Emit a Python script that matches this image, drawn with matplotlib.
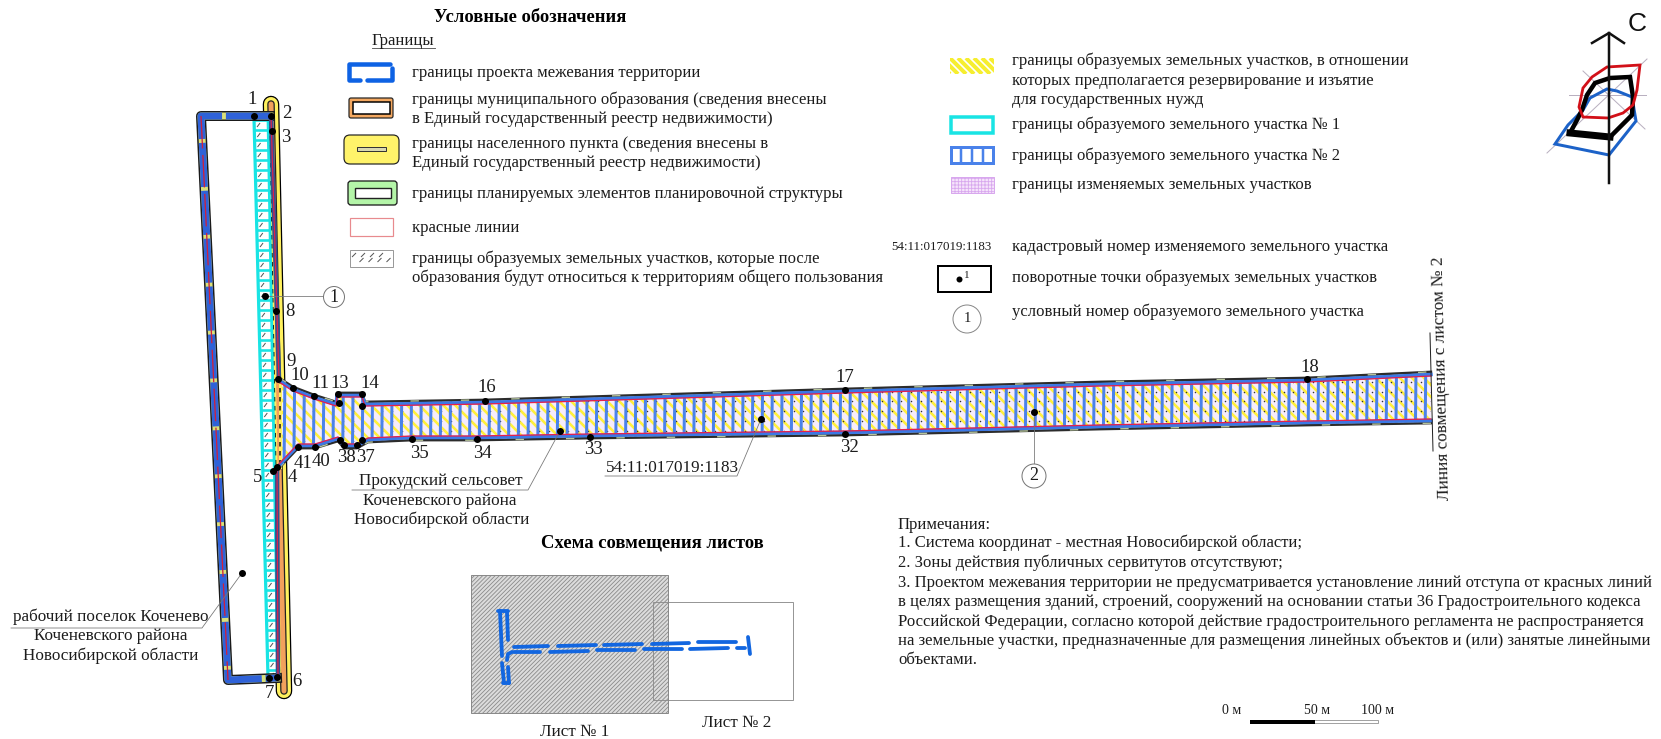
import numpy as np
import matplotlib
matplotlib.use("Agg")
import matplotlib.pyplot as plt
from matplotlib.collections import LineCollection
from matplotlib.patches import Circle, FancyBboxPatch, Polygon, Rectangle

# ---- data (pixels of the sheet) ----
top_edge = [(279, 379), (293, 388), (314, 396), (336, 403), (337, 394), (362, 394), (365, 403),
            (485, 401), (845, 390), (1100, 383), (1307, 379), (1431, 373)]
bottom_edge = [(1431, 422), (1307, 424), (1100, 428), (845, 434), (590, 437), (477, 439), (412, 439),
               (368, 441), (357, 447), (344, 447), (338, 440), (315, 447), (298, 447), (279, 467)]
outer_left = [(270, 116), (201, 116), (228, 680), (277, 678)]
settlement_strip = [(271, 104), (284, 691)]
plot1_left = [(254, 118), (268, 678)]
plot1_right = [(268, 118), (278, 678)]
right_border_a = [(271, 116), (279, 379)]
right_border_b = [(277, 467), (278, 678)]

point_x = [254, 271, 272, 265, 276, 278, 293, 314, 338, 339, 362, 362, 485, 560, 412, 477, 362, 357, 340,
           344, 315, 298, 277, 273, 845, 845, 590, 1307, 761, 1034, 269, 277, 242]
point_y = [116, 116, 131, 296, 311, 379, 388, 396, 394, 403, 394, 406, 401, 431, 439, 439, 440, 445, 440,
           445, 447, 447, 467, 471, 390, 434, 437, 379, 419, 412, 678, 677, 573]

point_labels = ["1", "2", "3", "8", "9", "10", "11", "13", "14", "16", "17", "18", "32", "33", "34", "35",
                "37", "38", "40", "41", "4", "5", "6", "7"]
label_x = [252, 287, 286, 290, 291, 300, 320, 340, 370, 487, 845, 1310, 849, 593, 482, 419,
           365, 346, 321, 303, 292, 258, 297, 269]
label_y = [100, 114, 137, 312, 361, 375, 383, 383, 383, 387, 377, 368, 448, 450, 453, 453,
           457, 457, 462, 464, 478, 478, 682, 693]

legend_left = ["границы проекта межевания территории",
               "границы муниципального образования (сведения внесены",
               "в Единый государственный реестр недвижимости)",
               "границы населенного пункта (сведения внесены в",
               "Единый государственный реестр недвижимости)",
               "границы планируемых элементов планировочной структуры",
               "красные линии",
               "границы образуемых земельных участков, которые после",
               "образования будут относиться к территориям общего пользования"]
legend_left_y = [73, 100, 119, 144, 163, 194, 228, 259, 278]

legend_right = ["границы образуемых земельных участков, в отношении",
                "которых предполагается резервирование и изъятие",
                "для государственных нужд",
                "границы образуемого земельного участка № 1",
                "границы образуемого земельного участка № 2",
                "границы изменяемых земельных участков",
                "кадастровый номер изменяемого земельного участка",
                "поворотные точки образуемых земельных участков",
                "условный номер образуемого земельного участка"]
legend_right_y = [61, 81, 100, 125, 156, 185, 247, 278, 312]

notes = ["Примечания:",
         "1. Система координат - местная Новосибирской области;",
         "2. Зоны действия публичных сервитутов отсутствуют;",
         "3. Проектом межевания территории не предусматривается установление линий отступа от красных линий",
         "в целях размещения зданий, строений, сооружений на основании статьи 36 Градостроительного кодекса",
         "Российской Федерации, согласно которой действие градостроительного регламента не распространяется",
         "на земельные участки, предназначенные для размещения линейных объектов и (или) занятые линейными",
         "объектами."]
notes_y = [525, 543, 563, 583, 602, 622, 641, 660]

rose_red = [(1640, 65), (1607, 67), (1592, 77), (1583, 88), (1579, 107), (1583, 117), (1608, 118),
            (1623, 113), (1633, 105), (1637, 90)]
rose_black = [(1570, 133), (1610, 137), (1632, 115), (1633, 97), (1630, 77), (1610, 78), (1595, 83),
              (1587, 95), (1582, 110), (1577, 120)]
rose_blue = [(1555, 144), (1609, 155), (1636, 121), (1632, 97), (1617, 91), (1607, 89), (1590, 98),
             (1583, 110), (1568, 125)]
rose_axes = [[(1569, 95), (1646, 95)], [(1547, 153), (1647, 59)], [(1583, 71), (1645, 129)]]

mini_dashes = [[(500, 611), (502, 656)], [(498, 611), (508, 611)], [(507, 612), (508, 640)],
               [(502, 663), (504, 683)], [(503, 683), (509, 683)], [(508, 667), (509, 683)],
               [(507, 660), (508, 654), (512, 652)],
               [(514, 647), (548, 646)], [(558, 646), (596, 645)], [(604, 645), (642, 644)],
               [(652, 644), (689, 643)], [(698, 642), (736, 642)],
               [(514, 652), (540, 652)], [(550, 652), (588, 651)], [(597, 650), (635, 650)],
               [(644, 649), (682, 649)], [(690, 649), (728, 648)], [(737, 648), (745, 648)],
               [(748, 637), (750, 654)]]

FONT = "Liberation Serif"
BLUE = "#4a82ea"
LINE_BLUE = "#0e62e4"
TEXT_SIZE = 12.0
PLACE_SIZE = 12.3


def px(v):
    return v * 0.72


plt.rcParams["hatch.linewidth"] = 0.6
fig = plt.figure(figsize=(16.61, 7.39), dpi=100)
ax = fig.add_axes([0, 0, 1, 1])
ax.set_xlim(0, 1661)
ax.set_ylim(739, 0)
ax.axis("off")


def xy(points):
    return [p[0] for p in points], [p[1] for p in points]


def at_y(line, y):
    return np.interp(y, [line[0][1], line[1][1]], [line[0][0], line[1][0]])


def line(points, color, w, z=3, **kw):
    xs, ys = xy(points)
    ax.plot(xs, ys, color=color, lw=px(w), zorder=z, **kw)


def label(x, y, s, size=TEXT_SIZE, ha="center", **kw):
    ax.text(x, y, s, family=FONT, fontsize=size, ha=ha, va="center", color=kw.pop("color", "#1c1c1c"), zorder=10, **kw)


def stripes(clip, x0, x1, y0, y1, step, color, w, z):
    # diagonal fill clipped to a patch
    h = y1 - y0
    segs = [[(x, y0), (x + h, y1)] for x in np.arange(x0 - h, x1, step)]
    lc = LineCollection(segs, colors=color, linewidths=px(w), zorder=z)
    ax.add_collection(lc)
    lc.set_clip_path(clip)


def ticks(segs, z=4):
    ax.add_collection(LineCollection(segs, colors="#555555", linewidths=px(1), zorder=z))


# settlement + municipal strip
line(settlement_strip, "black", 16.5, 2, solid_capstyle="round")
line(settlement_strip, "#fff15e", 14, 2.1, solid_capstyle="round")
line(settlement_strip, "#222222", 7.5, 2.2, solid_capstyle="round")
line(settlement_strip, "#f2a15c", 5, 2.3, solid_capstyle="round")

# plot no. 1 ladder
cy = np.arange(120, 678, 10.0)
cl = at_y(plot1_left, cy)
cr = at_y(plot1_right, cy)
cell = Polygon(plot1_left + plot1_right[::-1], closed=True, fc="white", ec="none", zorder=3)
ax.add_patch(cell)
ticks([[(a + 3, y + 7), (a + 6, y + 3)] for a, y in zip(cl, cy)], 3.1)
line([(r + 1.5, y) for r, y in zip(at_y(plot1_right, [118, 678]), [118, 678])], "#fff15e", 3.5, 3.2)
line([(r + 1.5, y) for r, y in zip(at_y(plot1_right, [118, 678]), [118, 678])], "#111111", 1.5, 3.3, ls=(0, (3, 3)))
ax.add_collection(LineCollection([[(a, y), (b, y)] for a, b, y in zip(cl, cr, cy)], colors="#19e4e4",
                                 linewidths=px(2.6), zorder=3.4))
line(plot1_left, "#19e4e4", 3.2, 3.4)
line(plot1_right, "#19e4e4", 2.8, 3.4)

# right side border of the project
for part in (right_border_a, right_border_b):
    line(part, "#34508e", 4.5, 3.6)
    line(part, "#e0204a", 1.2, 3.7)

# outer left contour
line(outer_left, "#1a1a1a", 10, 3.5)
line(outer_left, "#d9e07a", 7, 3.55)
line(outer_left, "#2f62d8", 7, 3.6, ls=(0, (6.3, 0.55)))
line(outer_left[1:3], "#d0203c", 1.3, 3.7, ls=(0, (25, 5)))

# plot no. 2 - the long band
band = Polygon(top_edge + bottom_edge, closed=True, fc="#f6ecfb", ec="none", zorder=4)
ax.add_patch(band)
stripes(band, 280, 1431, 370, 470, 12, "#fff03c", 2.6, 4.1)
dx, dy = np.meshgrid(np.arange(284, 1431, 9.8), np.arange(372, 470, 9.8))
dots = ax.scatter(dx.ravel(), dy.ravel(), s=1.2, color="#333333", lw=0, zorder=4.2)
dots.set_clip_path(band)
rungs = LineCollection([[(x, 370), (x - 1, 470)] for x in np.arange(285, 1431, 9.75)], colors=BLUE,
                       linewidths=px(3), zorder=4.3)
ax.add_collection(rungs)
rungs.set_clip_path(band)
line([(280, 379), (280, 467)], "#fff15e", 3, 4.4)
line([(280, 379), (280, 467)], "#111111", 1.5, 4.5, ls=(0, (3, 3)))
for edge, sign in ((top_edge, 1), (bottom_edge, -1)):
    line([(x, y - sign * 1.2) for x, y in edge], "#2c2c2c", 2.4, 4.6)
    line([(x, y - sign * 1.2) for x, y in edge], "#b6c49a", 1.4, 4.65, ls=(0, (6, 30)))
    line([(x, y + sign * 1.5) for x, y in edge], "#3b78e6", 3.5, 4.7)
    line([(x, y + sign * 3) for x, y in edge], "#e4204e", 1.3, 4.8)

ax.plot(point_x, point_y, "o", color="black", ms=px(7), mew=0, zorder=6)
for x, y, s in zip(label_x, label_y, point_labels):
    label(x, y, s, size=13.5)

# end of sheet line
line([(1430, 333), (1433, 451)], "#222222", 1, 6)
label(1442, 378, "Линия совмещения с листом № 2", rotation=91.5, size=12.4)

# callouts
line([(265, 296), (323, 296)], "#777777", 0.8, 5)
line([(1034, 412), (1034, 464)], "#777777", 0.8, 5)
for cx_, cy_, r_, s in [(334, 297, 10.5, "1"), (1034, 476, 12, "2")]:
    ax.add_patch(Circle((cx_, cy_), r_, fc="white", ec="#777777", lw=px(1), zorder=5))
    label(cx_, cy_, s, size=13)
line([(11, 628), (202, 628), (242, 573)], "#777777", 0.8, 5)
line([(352, 490), (528, 490), (560, 431)], "#777777", 0.8, 5)
line([(605, 476), (737, 476), (761, 419)], "#777777", 0.8, 5)
label(111, 617, "рабочий поселок Коченево", size=PLACE_SIZE)
label(111, 636, "Коченевского района", size=PLACE_SIZE)
label(111, 656, "Новосибирской области", size=PLACE_SIZE)
label(441, 481, "Прокудский сельсовет", size=PLACE_SIZE)
label(440, 501, "Коченевского района", size=PLACE_SIZE)
label(442, 520, "Новосибирской области", size=PLACE_SIZE)
label(672, 468, "54:11:017019:1183", size=PLACE_SIZE)

# legend
label(530, 17, "Условные обозначения", size=13.3, weight="bold", color="black")
label(403, 41, "Границы")
line([(372, 48), (435, 48)], "#555555", 0.9, 5)
for y, s in zip(legend_left_y, legend_left):
    label(412, y, s, ha="left")
for y, s in zip(legend_right_y, legend_right):
    label(1012, y, s, ha="left")

line([(360, 80), (349, 80), (349, 64), (390, 64)], LINE_BLUE, 4.5, 5, solid_capstyle="round")
line([(392, 68), (392, 80), (367, 80)], LINE_BLUE, 4.5, 5, solid_capstyle="round")
ax.add_patch(FancyBboxPatch((349, 98), 44, 20, boxstyle="round,pad=0,rounding_size=2", fc="#f4a860", ec="#222222", lw=px(1.2), zorder=5))
ax.add_patch(Rectangle((353, 102), 37, 12, fc="white", ec="black", lw=px(1.5), zorder=6))
ax.add_patch(FancyBboxPatch((344, 135), 55, 29, boxstyle="round,pad=0,rounding_size=6", fc="#fff36a", ec="#222222", lw=px(1.2), zorder=5))
ax.add_patch(Rectangle((357, 147), 29, 4, fc="#d8d8b0", ec="#333333", lw=px(1), zorder=6))
ax.add_patch(FancyBboxPatch((348, 181), 49, 24, boxstyle="round,pad=0,rounding_size=3", fc="#b4f5a8", ec="#1c1c1c", lw=px(1.3), zorder=5))
ax.add_patch(Rectangle((355, 188), 36, 10, fc="white", ec="#222222", lw=px(1.4), zorder=6))
ax.add_patch(Rectangle((350, 218), 43, 18, fc="white", ec="#e88a8e", lw=px(1.2), zorder=5))
ax.add_patch(Rectangle((350, 250), 43, 17, fc="white", ec="#9a9a9a", lw=px(1), zorder=5))
ticks([[(x + (i % 2) * 3, 257 + (i % 2) * 5), (x + 4 + (i % 2) * 3, 253 + (i % 2) * 5)] for i, x in enumerate(np.arange(352, 388, 4.5))], 6)

sw_yellow = Rectangle((950, 58), 44, 16, fc="white", ec="none", zorder=5)
ax.add_patch(sw_yellow)
stripes(sw_yellow, 950, 994, 58, 74, 8, "#f6ee30", 4, 6)
ax.add_patch(Rectangle((951, 117), 42, 16, fc="white", ec="#19e4e4", lw=px(3.5), zorder=5))
ax.add_patch(Rectangle((951, 147), 42, 16, fc="white", ec=BLUE, lw=px(3), zorder=5))
ax.add_collection(LineCollection([[(x, 147), (x, 163)] for x in (961, 972, 983)], colors=BLUE, linewidths=px(2.5), zorder=6))
ax.add_patch(Rectangle((951, 177), 43, 16, fc="#f6e4fb", ec="#d8a8ee", hatch="+++++", lw=px(1), zorder=5))
label(941, 247, "54:11:017019:1183", size=9.4)
ax.add_patch(Rectangle((938, 266), 53, 26, fc="white", ec="black", lw=px(2), zorder=5))
ax.plot([959], [279], "o", color="black", ms=px(6), mew=0, zorder=6)
label(967, 276, "1", size=8)
ax.add_patch(Circle((967, 319), 14, fc="white", ec="#888888", lw=px(1), zorder=5))
label(967, 319, "1", size=10.5)

# compass
for seg in rose_axes:
    line(seg, "#b9b0c0", 1, 2)
ax.add_patch(Polygon(rose_blue, closed=True, fc="none", ec="#1c62c8", lw=px(3), zorder=3))
ax.add_patch(Polygon(rose_black, closed=True, fc="none", ec="black", lw=px(4.5), zorder=3.1))
line(rose_black[:2], "black", 7, 3.2)
ax.add_patch(Polygon(rose_red, closed=True, fc="none", ec="#d21018", lw=px(2.8), zorder=3.3))
line([(1609, 183), (1609, 33)], "#111111", 2.5, 4)
line([(1592, 43), (1609, 33), (1624, 43)], "#111111", 2.5, 4)
ax.text(1637, 24, "С", family="Liberation Sans", fontsize=19, ha="center", va="center", color="#111111")

# sheets scheme
label(652, 543, "Схема совмещения листов", size=13.4, weight="bold", color="black")
ax.add_patch(Rectangle((471, 575), 197, 138, fc="#dcdcdc", ec="#8a8a8a", hatch="////////", lw=px(1), zorder=2))
ax.add_patch(Rectangle((653, 602), 140, 98, fc="none", ec="#8c8c8c", lw=px(0.9), zorder=3))
for seg in mini_dashes:
    line(seg, "#1266e0", 3.8, 4, solid_capstyle="round")
label(575, 732, "Лист № 1", size=PLACE_SIZE)
label(737, 723, "Лист № 2", size=PLACE_SIZE)

# notes
for y, s in zip(notes_y, notes):
    label(898, y, s, ha="left")

# scale bar
ax.add_patch(Rectangle((1250, 720), 128, 3, fc="white", ec="#999999", lw=px(0.9), zorder=3))
ax.add_patch(Rectangle((1250, 719.5), 65, 4, fc="black", ec="black", lw=0, zorder=4))
label(1232, 711, "0 м", size=10)
label(1317, 710, "50 м", size=10)
label(1378, 710, "100 м", size=10)

fig.savefig("out.png", dpi=100, facecolor="white")
